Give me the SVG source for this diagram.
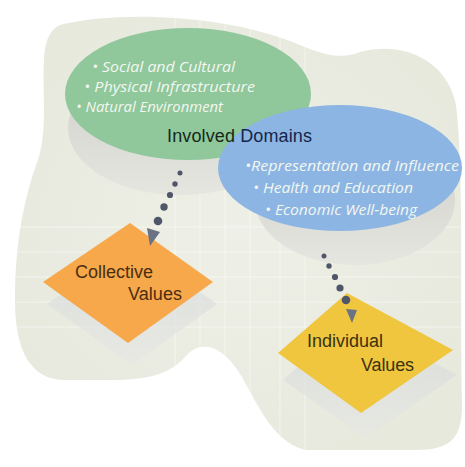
<svg xmlns="http://www.w3.org/2000/svg" width="465" height="467" viewBox="0 0 465 467">
<style>
.bul{font-family:"Open Sans","DejaVu Sans",sans-serif;font-style:italic;font-size:15px;fill:#f2f7f0}
.lbl{font-family:"Liberation Sans",Arial,sans-serif;font-size:18px}
.dot{fill:#50566a}
.arr{fill:#6b7284}
.grid line{stroke:#ffffff;stroke-width:1.5;opacity:0.3}
</style>
<defs>
<linearGradient id="gBase" x1="0" y1="0" x2="0" y2="1">
<stop offset="0" stop-color="#cdcec8"/>
<stop offset="1" stop-color="#e6e6e0"/>
</linearGradient>
<linearGradient id="sh" x1="0" y1="0" x2="0" y2="1">
<stop offset="0" stop-color="#cfd2d6"/>
<stop offset="1" stop-color="#e6e7e5"/>
</linearGradient>
<radialGradient id="blobG" cx="0.5" cy="0.5" r="0.6">
<stop offset="0" stop-color="#eeefe6"/>
<stop offset="1" stop-color="#e7e9dd"/>
</radialGradient>
<clipPath id="blobClip">
<path id="blobPath" d="M60,25 C120,10 230,15 300,45 C330,58 345,58 360,52 C405,40 448,62 456,105 C464,170 460,300 462,400 C463,438 452,450 415,450 L305,450 C268,440 255,395 236,368 C220,345 200,340 186,356 C170,374 150,380 110,380 L65,380 C30,380 15,350 15,300 C15,240 25,195 38,160 C48,130 42,90 44,60 C45,40 50,30 60,25 Z"/>
</clipPath>
</defs>
<rect width="465" height="467" fill="#ffffff"/>
<g id="background">
<use href="#blobPath" fill="url(#blobG)"/>
<g class="grid" clip-path="url(#blobClip)">
<line x1="175" y1="0" x2="175" y2="467"/>
<line x1="200" y1="0" x2="200" y2="467"/>
<line x1="225" y1="0" x2="225" y2="467"/>
<line x1="250" y1="0" x2="250" y2="467"/>
<line x1="280" y1="0" x2="280" y2="467"/>
<line x1="305" y1="0" x2="305" y2="467"/>
<line x1="0" y1="227" x2="465" y2="227"/>
<line x1="0" y1="252" x2="465" y2="252"/>
<line x1="0" y1="277" x2="465" y2="277"/>
<line x1="0" y1="302" x2="465" y2="302"/>
<line x1="0" y1="327" x2="465" y2="327"/>
</g>
</g>
<g id="domain-green">
<ellipse cx="180" cy="128" rx="112" ry="67" fill="url(#gBase)"/>
<ellipse cx="188" cy="94" rx="123" ry="66" fill="#90c79b"/>
<text class="bul" x="92" y="72" textLength="143" lengthAdjust="spacingAndGlyphs">• Social and Cultural</text>
<text class="bul" x="84" y="92" textLength="171" lengthAdjust="spacingAndGlyphs">• Physical Infrastructure</text>
<text class="bul" x="76" y="112" textLength="147" lengthAdjust="spacingAndGlyphs">• Natural Environment</text>
</g>
<g id="domain-blue">
<ellipse cx="355" cy="200" rx="100" ry="65" fill="url(#gBase)"/>
<ellipse cx="340" cy="168" rx="122" ry="63" fill="#8db5e3"/>
<text class="bul" x="245" y="171" textLength="214" lengthAdjust="spacingAndGlyphs">•Representation and Influence</text>
<text class="bul" x="253" y="193" textLength="160" lengthAdjust="spacingAndGlyphs">• Health and Education</text>
<text class="bul" x="265" y="215" textLength="152" lengthAdjust="spacingAndGlyphs">• Economic Well-being</text>
</g>
<g id="involved-domains">
<text class="lbl" x="167" y="142" font-size="17" textLength="145"><tspan fill="#15291a">Involved </tspan><tspan fill="#13264a">Domains</tspan></text>
</g>
<g id="collective-values">
<polygon points="134,245 217,304 132,365 47,304" fill="url(#sh)" opacity="0.6"/>
<polygon points="130,223 213,282 128,343 43,282" fill="#f7a84b"/>
<text class="lbl" fill="#4a2e12" x="75" y="278" textLength="78">Collective</text>
<text class="lbl" fill="#4a2e12" x="128" y="300" textLength="54">Values</text>
</g>
<g id="individual-values">
<polygon points="352,318 457,375 365,438 283,380" fill="url(#sh)" opacity="0.6"/>
<polygon points="347,293 453,350 361,413 278,353" fill="#f0c63f"/>
<text class="lbl" fill="#3a3210" x="307" y="347" textLength="76">Individual</text>
<text class="lbl" fill="#3a3210" x="361" y="371" textLength="53">Values</text>
</g>
<g id="connectors">
<circle class="dot" cx="180" cy="173" r="2.5"/>
<circle class="dot" cx="175" cy="184" r="2.7"/>
<circle class="dot" cx="170" cy="195" r="3.1"/>
<circle class="dot" cx="164" cy="207" r="3.7"/>
<circle class="dot" cx="158" cy="221" r="4.3"/>
<polygon class="arr" points="147,228 160,232 150,246"/>
<circle class="dot" cx="324" cy="256" r="2.5"/>
<circle class="dot" cx="329" cy="266" r="2.7"/>
<circle class="dot" cx="335" cy="277" r="3.1"/>
<circle class="dot" cx="340" cy="288" r="3.6"/>
<circle class="dot" cx="346" cy="300" r="4.3"/>
<polygon class="arr" points="346,309 357,310 352,323"/>
</g>
</svg>
